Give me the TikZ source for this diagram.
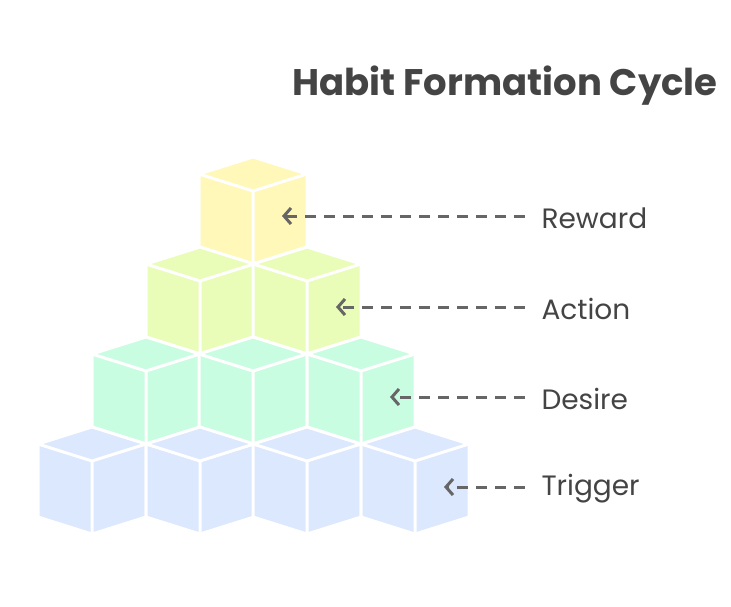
\documentclass[tikz,border=0pt]{standalone}
\usepackage{fontspec}
\setmainfont{Poppins}
\usetikzlibrary{arrows.meta}
\definecolor{cA}{HTML}{FFF8B8}
\definecolor{cB}{HTML}{EAFDB8}
\definecolor{cC}{HTML}{C9FDE2}
\definecolor{cD}{HTML}{DCE8FE}
\definecolor{ink}{HTML}{444444}
\definecolor{arr}{HTML}{666666}
\newcommand{\cube}[3]{%
 \fill[#3] (#1,#2) -- ++(54,17) -- ++(0,73) -- ++(-54,17) -- ++(-54,-17) -- ++(0,-73) -- cycle;
 \draw[white,line width=3pt,line join=round] (#1,#2) -- ++(54,17) -- ++(0,73) -- ++(-54,17) -- ++(-54,-17) -- ++(0,-73) -- cycle;
 \draw[white,line width=3pt] (#1-54,#2+17) -- (#1,#2+34) -- (#1+54,#2+17) (#1,#2+34) -- (#1,#2+107);}
\begin{document}
\begin{tikzpicture}[x=1pt,y=-1pt,
 lab/.style={anchor=west,font=\fontsize{28}{32}\selectfont,text=ink},
 con/.style={arr,line width=3pt,dash pattern=on 11pt off 8pt,-{Straight Barb[length=7pt,width=16pt,line width=3pt]}}]
\useasboundingbox (0,0) rectangle (731,606);
\node[anchor=center,font=\bfseries\fontsize{37}{42}\selectfont,text=ink] (title) at (505,86) {Habit Formation Cycle};
\cube{253}{157}{cA}
\cube{200}{247}{cB}\cube{307}{247}{cB}
\cube{146}{337}{cC}\cube{253}{337}{cC}\cube{361}{337}{cC}
\cube{92}{427}{cD}\cube{200}{427}{cD}\cube{307}{427}{cD}\cube{415}{427}{cD}
\node[lab] (l1) at (538,218) {Reward};
\node[lab] (l2) at (538,309) {Action};
\node[lab] (l3) at (538,399) {Desire};
\node[lab] (l4) at (538,489) {Trigger};
\coordinate (h1) at (282,216);
\coordinate (h2) at (336,307);
\coordinate (h3) at (390,397);
\coordinate (h4) at (444,487);
\draw[con] (525,216) -- (h1);
\draw[con] (525,307) -- (h2);
\draw[con] (525,397) -- (h3);
\draw[con] (525,487) -- (h4);
\end{tikzpicture}
\end{document}
